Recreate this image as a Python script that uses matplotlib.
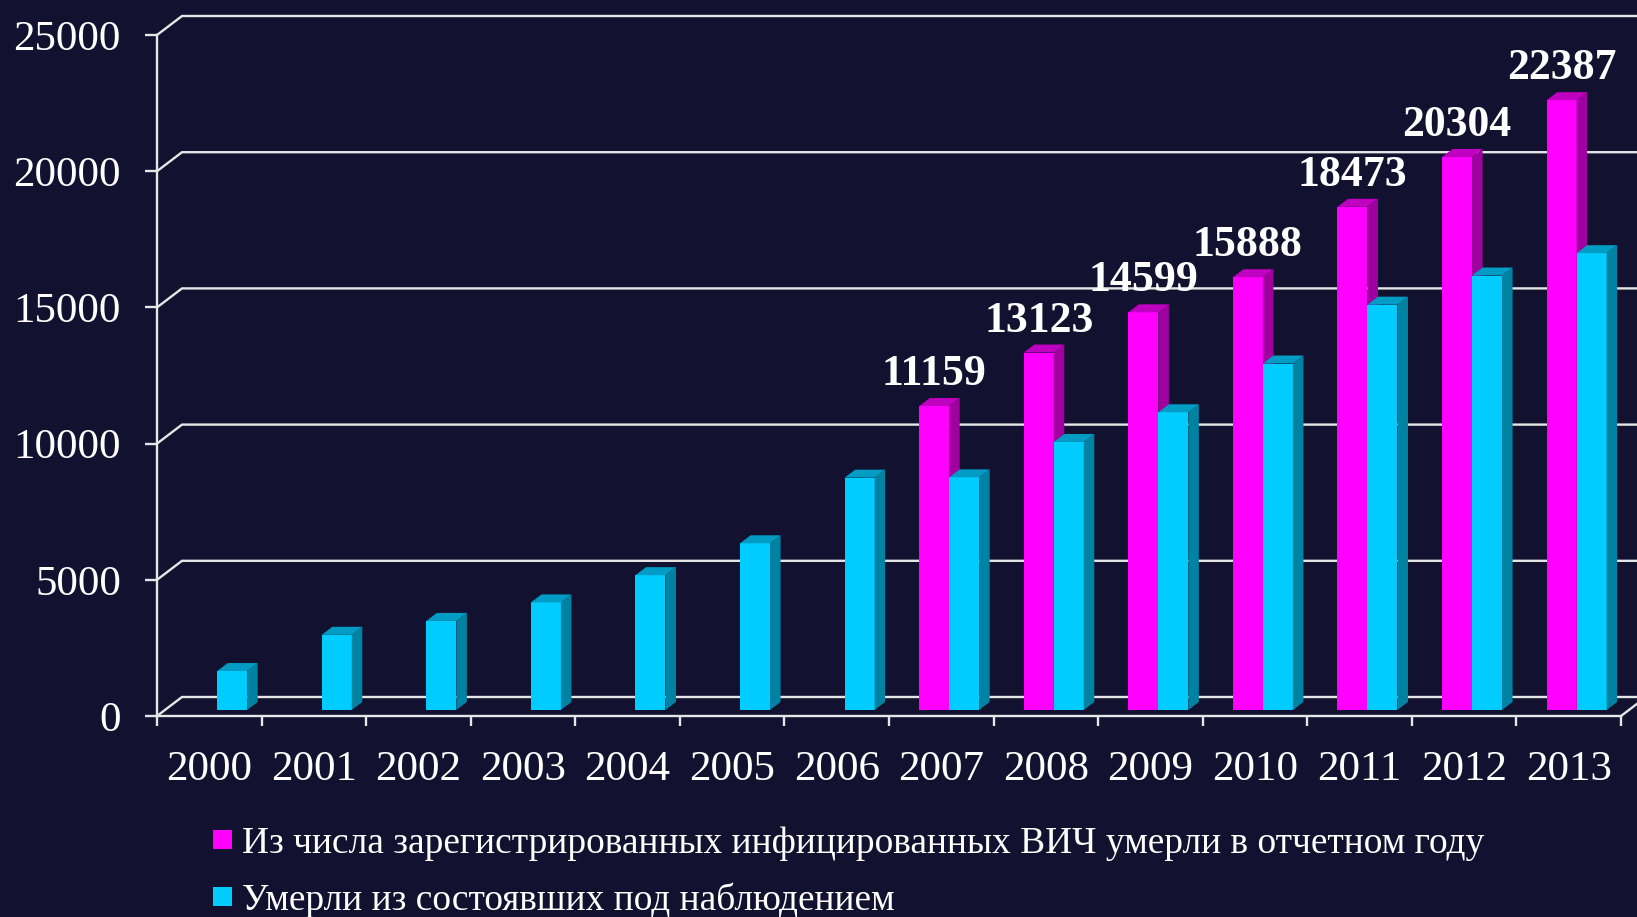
import numpy as np
import matplotlib
matplotlib.use("Agg")
import matplotlib.pyplot as plt
from matplotlib.patches import Polygon, Rectangle

# data
years = ["2000", "2001", "2002", "2003", "2004", "2005", "2006",
         "2007", "2008", "2009", "2010", "2011", "2012", "2013"]
registered_died = [np.nan] * 7 + [11159, 13123, 14599, 15888, 18473, 20304, 22387]
observed_died = [1430, 2760, 3270, 3950, 4950, 6120, 8530,
                 8540, 9840, 10930, 12720, 14880, 15950, 16770]
series_names = ["Из числа зарегистрированных инфицированных ВИЧ умерли в отчетном году",
                "Умерли из состоявших под наблюдением"]
y_ticks = [0, 5000, 10000, 15000, 20000, 25000]

BG = "#12112F"
GRID = "#E6E6E6"
MAG = ("#FF00FF", "#A000A0", "#C000C0")   # front, side, top
CYA = ("#00CCFF", "#0082A3", "#009CC4")

W, H = 1637, 917
fig = plt.figure(figsize=(W / 100, H / 100), dpi=100, facecolor=BG)
plt.rcParams["font.family"] = ["Liberation Serif", "DejaVu Serif"]

# axes box in pixels: front plane of the 3d box
left_px, zero_px, top_px = 157, 716, 35
width_px = 1464
ax = fig.add_axes([left_px / W, (H - zero_px) / H, width_px / W, (zero_px - top_px) / H])
ax.set_facecolor(BG)
n = len(years)
ymax = 25000
ax.set_xlim(0, n)
ax.set_ylim(0, ymax)

# 3d depth of the floor, pixels -> data units
px_x = width_px / n
px_y = (zero_px - top_px) / ymax
DX = 25 / px_x
DY = 19 / px_y
t0, t1 = 6 / 19, 14 / 19     # bar front / back planes as share of depth

# back walls: grid lines with left-wall diagonals
for v in y_ticks:
    ax.plot([0, DX, n + DX + 1], [v, v + DY, v + DY], color=GRID, lw=1.7,
            clip_on=False, zorder=1, solid_joinstyle="miter")
# right end of floor
ax.plot([n, n + DX], [0, DY], color=GRID, lw=1.7, clip_on=False, zorder=1)

bar_w = 30 / px_x
ox, oy = t0 * DX, t0 * DY
dx, dy = (t1 - t0) * DX, (t1 - t0) * DY


def draw_bar(x0, h, colors, z):
    front, side, top = colors
    xf = x0 + ox
    ax.add_patch(Rectangle((xf, oy), bar_w, h, facecolor=front, edgecolor="none",
                           zorder=z, clip_on=False))
    ax.add_patch(Polygon([(xf + bar_w, oy), (xf + bar_w + dx, oy + dy),
                          (xf + bar_w + dx, oy + h + dy), (xf + bar_w, oy + h)],
                         closed=True, facecolor=side, edgecolor="none", zorder=z, clip_on=False))
    ax.add_patch(Polygon([(xf, oy + h), (xf + bar_w, oy + h),
                          (xf + bar_w + dx, oy + h + dy), (xf + dx, oy + h + dy)],
                         closed=True, facecolor=top, edgecolor="none", zorder=z, clip_on=False))


for i in range(n):
    z = 3 + i * 0.01
    if not np.isnan(registered_died[i]):
        x0 = i + 0.5 - bar_w
        draw_bar(x0, registered_died[i], MAG, z)
        ax.annotate(f"{registered_died[i]:.0f}", (x0 + ox + bar_w / 2, oy + registered_died[i]),
                    xytext=(0, 15), textcoords="offset points", ha="center", va="baseline",
                    fontsize=31.5, fontweight="bold", color="white", zorder=6,
                    annotation_clip=False)
    draw_bar(i + 0.5, observed_died[i], CYA, z + 0.005)

# axes lines and ticks
for s in ["top", "right"]:
    ax.spines[s].set_visible(False)
for s in ["left", "bottom"]:
    ax.spines[s].set_color(GRID)
    ax.spines[s].set_linewidth(1.7)
    ax.spines[s].set_zorder(2)
ax.spines["bottom"].set_bounds(0, n)

ax.set_yticks(y_ticks)
ax.set_yticklabels([str(v) for v in y_ticks])
ax.tick_params(axis="y", direction="out", length=9, width=1.7, color=GRID,
               labelcolor="white", labelsize=31, pad=17)
ax.set_xticks(np.arange(n) + 0.5)
ax.set_xticklabels(years)
ax.set_xticks(np.arange(n + 1), minor=True)
ax.tick_params(axis="x", which="major", length=0, labelcolor="white", labelsize=31, pad=25)
ax.tick_params(axis="x", which="minor", direction="out", length=7.5, width=1.7, color=GRID)

# legend
for k, (name, col) in enumerate(zip(series_names, [MAG[0], CYA[0]])):
    yb = 853 + 57 * k
    fig.add_artist(Rectangle((213 / W, (H - yb + 4) / H), 19 / W, 19 / H,
                             transform=fig.transFigure, facecolor=col, edgecolor="none"))
    fig.text(242 / W, (H - yb) / H, name, color="white", fontsize=26.9, va="baseline", ha="left")

fig.savefig("out.png", dpi=100, facecolor=BG)
